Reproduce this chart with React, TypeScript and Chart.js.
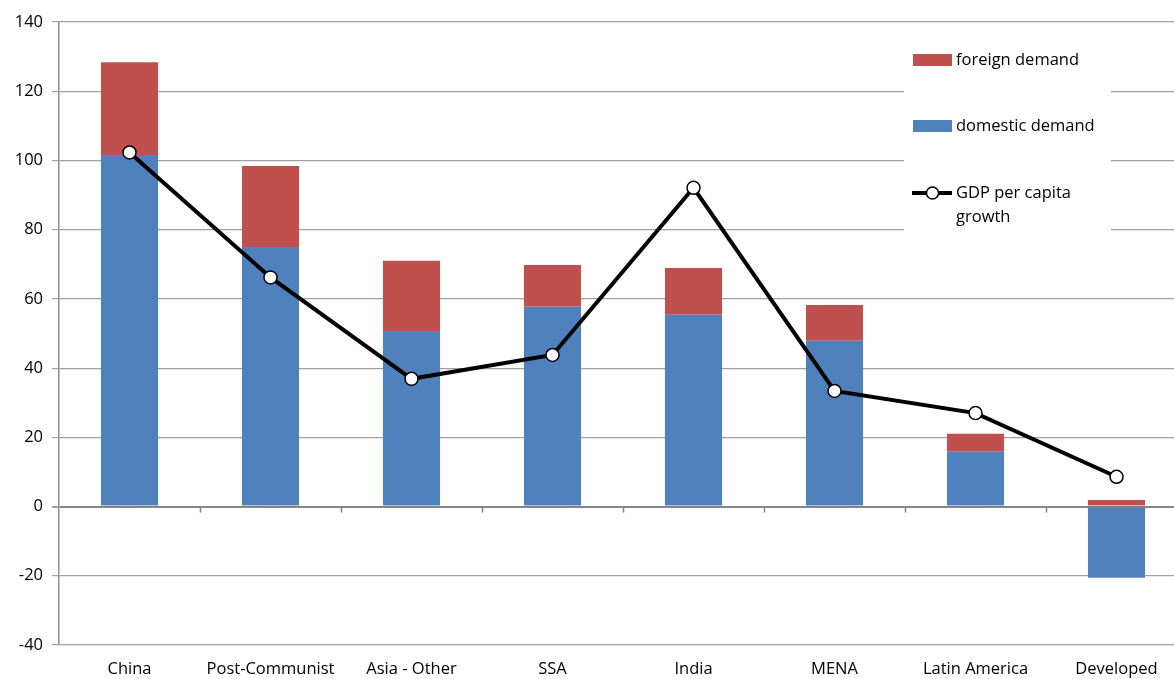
import React, { useEffect, useRef } from "react";
import { Chart, registerables } from "chart.js";

Chart.register(...registerables);

const categories = ["China", "Post-Communist", "Asia - Other", "SSA", "India", "MENA", "Latin America", "Developed"];
const domesticDemand = [101.6, 75.0, 50.7, 57.7, 55.4, 47.9, 15.8, -20.6];
const foreignDemand = [26.8, 23.4, 20.3, 12.1, 13.5, 10.3, 5.2, 1.9];
const gdpGrowth = [102.3, 66.2, 36.9, 43.8, 92.1, 33.4, 27.0, 8.6];
const yTicks = { min: -40, max: 140, step: 20 };

const RED = "#C0504D";
const BLUE = "#4F81BD";
const FONT = "'Open Sans', Lato, sans-serif";

const boundaryTicks = {
  id: "boundaryTicks",
  afterDatasetsDraw(chart: any) {
    const { ctx } = chart;
    const xs = chart.scales.x;
    const ys = chart.scales.y;
    const y0 = ys.getPixelForValue(0);
    ctx.save();
    ctx.strokeStyle = "#868686";
    ctx.lineWidth = 1.5;
    for (let i = 0; i < categories.length - 1; i++) {
      const bx = Math.round((xs.getPixelForValue(i) + xs.getPixelForValue(i + 1)) / 2) + 0.5;
      ctx.beginPath();
      ctx.moveTo(bx, y0);
      ctx.lineTo(bx, y0 + 6);
      ctx.stroke();
    }
    ctx.restore();
  },
};

const customLegend = {
  id: "customLegend",
  afterDraw(chart: any) {
    const { ctx, chartArea } = chart;
    const x0 = chartArea.right - 283;
    const top = chartArea.top + 2;
    ctx.save();
    ctx.fillStyle = "#ffffff";
    ctx.fillRect(x0, top, 207, 245 - top);
    const sx = x0 + 9;
    const sw = 39;
    ctx.font = `16.5px ${FONT}`;
    ctx.textBaseline = "middle";
    ctx.textAlign = "left";
    ctx.fillStyle = RED;
    ctx.fillRect(sx, 54, sw, 12);
    ctx.fillStyle = "#000";
    ctx.fillText("foreign demand", sx + sw + 4, 60);
    ctx.fillStyle = BLUE;
    ctx.fillRect(sx, 120, sw, 12);
    ctx.fillStyle = "#000";
    ctx.fillText("domestic demand", sx + sw + 4, 126);
    ctx.strokeStyle = "#000";
    ctx.lineWidth = 4;
    ctx.beginPath();
    ctx.moveTo(sx - 1, 193);
    ctx.lineTo(sx + sw, 193);
    ctx.stroke();
    ctx.beginPath();
    ctx.arc(sx + sw / 2, 193, 6, 0, Math.PI * 2);
    ctx.fillStyle = "#fff";
    ctx.fill();
    ctx.lineWidth = 1.5;
    ctx.stroke();
    ctx.fillStyle = "#000";
    ctx.fillText("GDP per capita", sx + sw + 4, 193);
    ctx.fillText("growth", sx + sw + 4, 217);
    ctx.restore();
  },
};

const CANVAS_W = 1195;

export default function App() {
  const ref = useRef<HTMLCanvasElement>(null);

  useEffect(() => {
    document.body.style.margin = "0";
    const chart = new Chart(ref.current!, {
      type: "bar",
      data: {
        labels: categories,
        datasets: [
          {
            type: "line",
            label: "GDP per capita growth",
            data: gdpGrowth,
            borderColor: "#000",
            borderWidth: 4,
            pointRadius: 6.5,
            pointBackgroundColor: "#fff",
            pointBorderColor: "#000",
            pointBorderWidth: 1.5,
            order: 0,
            tension: 0,
          } as any,
          {
            label: "domestic demand",
            data: domesticDemand,
            backgroundColor: BLUE,
            stack: "s",
            order: 1,
          },
          {
            label: "foreign demand",
            data: foreignDemand,
            backgroundColor: RED,
            stack: "s",
            order: 1,
          },
        ],
      },
      options: {
        animation: false,
        responsive: false,
        maintainAspectRatio: false,
        layout: { padding: { top: 22, right: 0, left: 0, bottom: 0 } },
        datasets: { bar: { categoryPercentage: 1, barPercentage: 0.405 } },
        plugins: { legend: { display: false }, tooltip: { enabled: false } },
        scales: {
          x: {
            stacked: true,
            offset: true,
            grid: { display: false, drawTicks: false },
            border: { display: false },
            ticks: {
              color: "#000",
              font: { family: FONT, size: 16.5, lineHeight: "48px" },
              padding: 0,
              maxRotation: 0,
              autoSkip: false,
            },
            afterFit: (s: any) => {
              s.height = 34;
              s.paddingRight = 0;
              s.paddingLeft = 0;
            },
          },
          y: {
            stacked: true,
            min: yTicks.min,
            max: yTicks.max,
            ticks: { stepSize: yTicks.step, color: "#000", font: { family: FONT, size: 16.5 }, padding: 9 },
            grid: {
              color: (c: any) => (c.tick && c.tick.value === 0 ? "#868686" : "#a0a0a0"),
              lineWidth: (c: any) => (c.tick && c.tick.value === 0 ? 2 : 1.2),
              tickLength: 7,
              tickColor: "#a0a0a0",
            },
            border: { display: true, color: "#909090", width: 1.5 },
            afterFit: (s: any) => { s.width = 59; },
          },
        },
      },
      plugins: [boundaryTicks, customLegend],
    });
    return () => chart.destroy();
  }, []);

  return (
    <div style={{ width: 1174, height: 679, overflow: "hidden" }}>
      <canvas ref={ref} width={CANVAS_W} height={679} style={{ display: "block" }} />
    </div>
  );
}
